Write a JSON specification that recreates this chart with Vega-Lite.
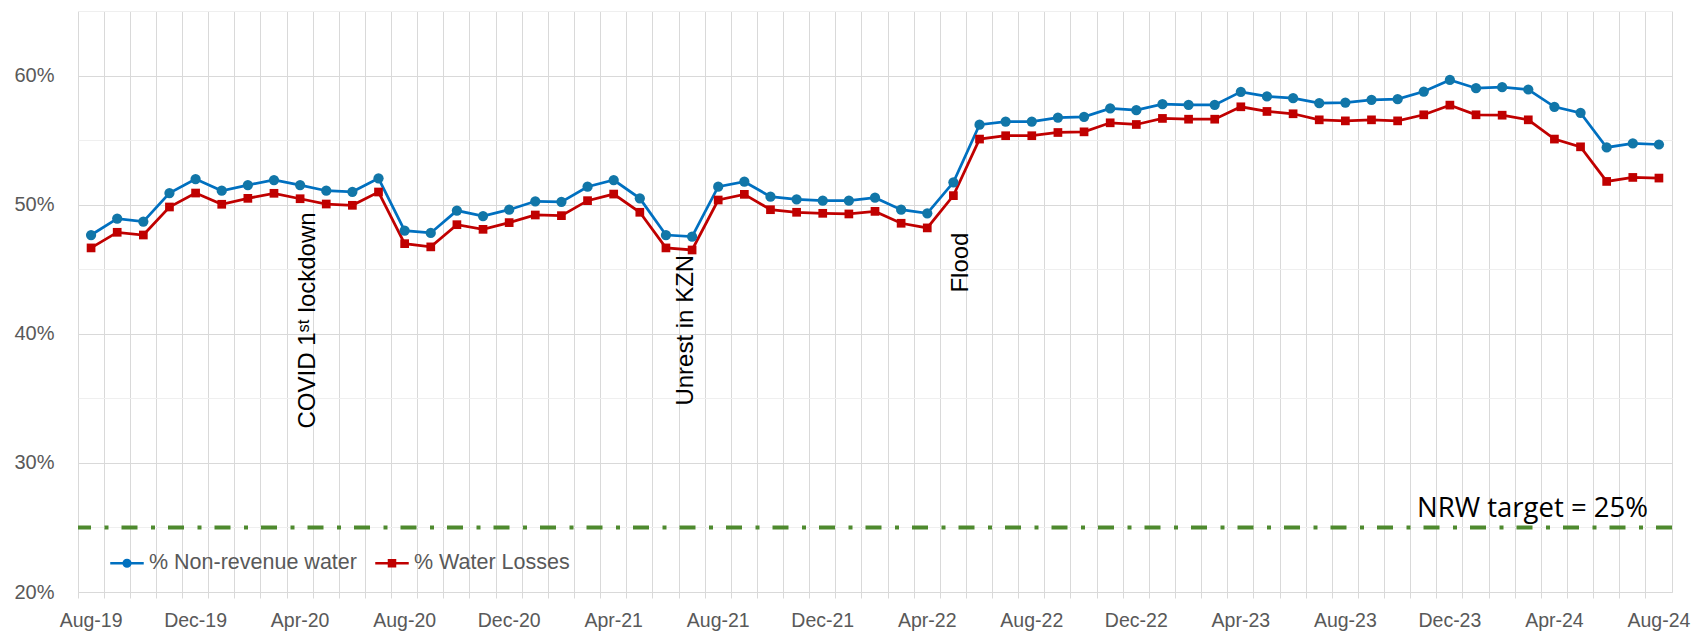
{
  "$schema": "https://vega.github.io/schema/vega-lite/v6.json",
  "width": 1594,
  "height": 581,
  "autosize": {"type": "none"},
  "padding": {"left": 78, "top": 11, "right": 22, "bottom": 42},
  "background": "white",
  "config": {
    "view": {"stroke": null},
    "font": "Liberation Sans",
    "axis": {"labelFont": "Liberation Sans", "labelColor": "#595959", "labelFontSize": 20}
  },
  "datasets": {
    "main": [
      {"month": "Aug-19", "series": "% Non-revenue water", "value": 47.65},
      {"month": "Sep-19", "series": "% Non-revenue water", "value": 48.92},
      {"month": "Oct-19", "series": "% Non-revenue water", "value": 48.69},
      {"month": "Nov-19", "series": "% Non-revenue water", "value": 50.90},
      {"month": "Dec-19", "series": "% Non-revenue water", "value": 51.98},
      {"month": "Jan-20", "series": "% Non-revenue water", "value": 51.08},
      {"month": "Feb-20", "series": "% Non-revenue water", "value": 51.52},
      {"month": "Mar-20", "series": "% Non-revenue water", "value": 51.91},
      {"month": "Apr-20", "series": "% Non-revenue water", "value": 51.52},
      {"month": "May-20", "series": "% Non-revenue water", "value": 51.08},
      {"month": "Jun-20", "series": "% Non-revenue water", "value": 51.00},
      {"month": "Jul-20", "series": "% Non-revenue water", "value": 52.04},
      {"month": "Aug-20", "series": "% Non-revenue water", "value": 47.99},
      {"month": "Sep-20", "series": "% Non-revenue water", "value": 47.81},
      {"month": "Oct-20", "series": "% Non-revenue water", "value": 49.54},
      {"month": "Nov-20", "series": "% Non-revenue water", "value": 49.12},
      {"month": "Dec-20", "series": "% Non-revenue water", "value": 49.61},
      {"month": "Jan-21", "series": "% Non-revenue water", "value": 50.26},
      {"month": "Feb-21", "series": "% Non-revenue water", "value": 50.22},
      {"month": "Mar-21", "series": "% Non-revenue water", "value": 51.39},
      {"month": "Apr-21", "series": "% Non-revenue water", "value": 51.91},
      {"month": "May-21", "series": "% Non-revenue water", "value": 50.49},
      {"month": "Jun-21", "series": "% Non-revenue water", "value": 47.65},
      {"month": "Jul-21", "series": "% Non-revenue water", "value": 47.53},
      {"month": "Aug-21", "series": "% Non-revenue water", "value": 51.39},
      {"month": "Sep-21", "series": "% Non-revenue water", "value": 51.78},
      {"month": "Oct-21", "series": "% Non-revenue water", "value": 50.62},
      {"month": "Nov-21", "series": "% Non-revenue water", "value": 50.41},
      {"month": "Dec-21", "series": "% Non-revenue water", "value": 50.31},
      {"month": "Jan-22", "series": "% Non-revenue water", "value": 50.31},
      {"month": "Feb-22", "series": "% Non-revenue water", "value": 50.54},
      {"month": "Mar-22", "series": "% Non-revenue water", "value": 49.61},
      {"month": "Apr-22", "series": "% Non-revenue water", "value": 49.33},
      {"month": "May-22", "series": "% Non-revenue water", "value": 51.73},
      {"month": "Jun-22", "series": "% Non-revenue water", "value": 56.19},
      {"month": "Jul-22", "series": "% Non-revenue water", "value": 56.44},
      {"month": "Aug-22", "series": "% Non-revenue water", "value": 56.44},
      {"month": "Sep-22", "series": "% Non-revenue water", "value": 56.75},
      {"month": "Oct-22", "series": "% Non-revenue water", "value": 56.80},
      {"month": "Nov-22", "series": "% Non-revenue water", "value": 57.45},
      {"month": "Dec-22", "series": "% Non-revenue water", "value": 57.32},
      {"month": "Jan-23", "series": "% Non-revenue water", "value": 57.78},
      {"month": "Feb-23", "series": "% Non-revenue water", "value": 57.73},
      {"month": "Mar-23", "series": "% Non-revenue water", "value": 57.73},
      {"month": "Apr-23", "series": "% Non-revenue water", "value": 58.74},
      {"month": "May-23", "series": "% Non-revenue water", "value": 58.38},
      {"month": "Jun-23", "series": "% Non-revenue water", "value": 58.25},
      {"month": "Jul-23", "series": "% Non-revenue water", "value": 57.86},
      {"month": "Aug-23", "series": "% Non-revenue water", "value": 57.91},
      {"month": "Sep-23", "series": "% Non-revenue water", "value": 58.12},
      {"month": "Oct-23", "series": "% Non-revenue water", "value": 58.17},
      {"month": "Nov-23", "series": "% Non-revenue water", "value": 58.76},
      {"month": "Dec-23", "series": "% Non-revenue water", "value": 59.66},
      {"month": "Jan-24", "series": "% Non-revenue water", "value": 59.02},
      {"month": "Feb-24", "series": "% Non-revenue water", "value": 59.10},
      {"month": "Mar-24", "series": "% Non-revenue water", "value": 58.92},
      {"month": "Apr-24", "series": "% Non-revenue water", "value": 57.58},
      {"month": "May-24", "series": "% Non-revenue water", "value": 57.11},
      {"month": "Jun-24", "series": "% Non-revenue water", "value": 54.43},
      {"month": "Jul-24", "series": "% Non-revenue water", "value": 54.74},
      {"month": "Aug-24", "series": "% Non-revenue water", "value": 54.66},
      {"month": "Aug-19", "series": "% Water Losses", "value": 46.65},
      {"month": "Sep-19", "series": "% Water Losses", "value": 47.86},
      {"month": "Oct-19", "series": "% Water Losses", "value": 47.65},
      {"month": "Nov-19", "series": "% Water Losses", "value": 49.82},
      {"month": "Dec-19", "series": "% Water Losses", "value": 50.90},
      {"month": "Jan-20", "series": "% Water Losses", "value": 50.03},
      {"month": "Feb-20", "series": "% Water Losses", "value": 50.49},
      {"month": "Mar-20", "series": "% Water Losses", "value": 50.88},
      {"month": "Apr-20", "series": "% Water Losses", "value": 50.46},
      {"month": "May-20", "series": "% Water Losses", "value": 50.05},
      {"month": "Jun-20", "series": "% Water Losses", "value": 49.95},
      {"month": "Jul-20", "series": "% Water Losses", "value": 50.98},
      {"month": "Aug-20", "series": "% Water Losses", "value": 46.98},
      {"month": "Sep-20", "series": "% Water Losses", "value": 46.73},
      {"month": "Oct-20", "series": "% Water Losses", "value": 48.45},
      {"month": "Nov-20", "series": "% Water Losses", "value": 48.09},
      {"month": "Dec-20", "series": "% Water Losses", "value": 48.61},
      {"month": "Jan-21", "series": "% Water Losses", "value": 49.20},
      {"month": "Feb-21", "series": "% Water Losses", "value": 49.15},
      {"month": "Mar-21", "series": "% Water Losses", "value": 50.31},
      {"month": "Apr-21", "series": "% Water Losses", "value": 50.82},
      {"month": "May-21", "series": "% Water Losses", "value": 49.41},
      {"month": "Jun-21", "series": "% Water Losses", "value": 46.65},
      {"month": "Jul-21", "series": "% Water Losses", "value": 46.49},
      {"month": "Aug-21", "series": "% Water Losses", "value": 50.36},
      {"month": "Sep-21", "series": "% Water Losses", "value": 50.80},
      {"month": "Oct-21", "series": "% Water Losses", "value": 49.61},
      {"month": "Nov-21", "series": "% Water Losses", "value": 49.41},
      {"month": "Dec-21", "series": "% Water Losses", "value": 49.33},
      {"month": "Jan-22", "series": "% Water Losses", "value": 49.28},
      {"month": "Feb-22", "series": "% Water Losses", "value": 49.48},
      {"month": "Mar-22", "series": "% Water Losses", "value": 48.56},
      {"month": "Apr-22", "series": "% Water Losses", "value": 48.20},
      {"month": "May-22", "series": "% Water Losses", "value": 50.70},
      {"month": "Jun-22", "series": "% Water Losses", "value": 55.08},
      {"month": "Jul-22", "series": "% Water Losses", "value": 55.34},
      {"month": "Aug-22", "series": "% Water Losses", "value": 55.34},
      {"month": "Sep-22", "series": "% Water Losses", "value": 55.59},
      {"month": "Oct-22", "series": "% Water Losses", "value": 55.64},
      {"month": "Nov-22", "series": "% Water Losses", "value": 56.34},
      {"month": "Dec-22", "series": "% Water Losses", "value": 56.21},
      {"month": "Jan-23", "series": "% Water Losses", "value": 56.68},
      {"month": "Feb-23", "series": "% Water Losses", "value": 56.62},
      {"month": "Mar-23", "series": "% Water Losses", "value": 56.62},
      {"month": "Apr-23", "series": "% Water Losses", "value": 57.58},
      {"month": "May-23", "series": "% Water Losses", "value": 57.22},
      {"month": "Jun-23", "series": "% Water Losses", "value": 57.04},
      {"month": "Jul-23", "series": "% Water Losses", "value": 56.57},
      {"month": "Aug-23", "series": "% Water Losses", "value": 56.49},
      {"month": "Sep-23", "series": "% Water Losses", "value": 56.57},
      {"month": "Oct-23", "series": "% Water Losses", "value": 56.49},
      {"month": "Nov-23", "series": "% Water Losses", "value": 56.96},
      {"month": "Dec-23", "series": "% Water Losses", "value": 57.71},
      {"month": "Jan-24", "series": "% Water Losses", "value": 56.96},
      {"month": "Feb-24", "series": "% Water Losses", "value": 56.93},
      {"month": "Mar-24", "series": "% Water Losses", "value": 56.57},
      {"month": "Apr-24", "series": "% Water Losses", "value": 55.08},
      {"month": "May-24", "series": "% Water Losses", "value": 54.48},
      {"month": "Jun-24", "series": "% Water Losses", "value": 51.80},
      {"month": "Jul-24", "series": "% Water Losses", "value": 52.11},
      {"month": "Aug-24", "series": "% Water Losses", "value": 52.06}
    ],
    "notesShifted": [
      {"month": "Apr-20", "y": 32.66, "label": "COVID 1ˢᵗ lockdown"},
      {"month": "May-22", "y": 43.19, "label": "Flood"}
    ],
    "notesCentered": [
      {"month": "Jul-21", "y": 34.44, "label": "Unrest in KZN"}
    ],
    "target": [
      {"month": "Aug-24", "target": 25, "label": "NRW target = 25%"}
    ]
  },
  "layer": [
    {
      "data": {"name": "target"},
      "mark": {"type": "rule", "color": "#4E8A2E", "strokeWidth": 4, "strokeDash": [16, 13, 4, 13.5]},
      "encoding": {
        "y": {
          "field": "target", "type": "quantitative",
          "axis": {"orient": "right", "values": [25, 35, 45, 55, 65], "grid": true, "gridColor": "#EFEFEF", "labels": false, "ticks": false, "domain": false, "title": null}
        }
      }
    },
    {
      "data": {"name": "main"},
      "mark": {"type": "line", "strokeWidth": 2.75},
      "encoding": {
        "x": {
          "field": "month", "type": "ordinal",
          "scale": {
            "type": "band", "paddingInner": 0, "paddingOuter": 0,
            "domain": ["Aug-19","Sep-19","Oct-19","Nov-19","Dec-19","Jan-20","Feb-20","Mar-20","Apr-20","May-20","Jun-20","Jul-20","Aug-20","Sep-20","Oct-20","Nov-20","Dec-20","Jan-21","Feb-21","Mar-21","Apr-21","May-21","Jun-21","Jul-21","Aug-21","Sep-21","Oct-21","Nov-21","Dec-21","Jan-22","Feb-22","Mar-22","Apr-22","May-22","Jun-22","Jul-22","Aug-22","Sep-22","Oct-22","Nov-22","Dec-22","Jan-23","Feb-23","Mar-23","Apr-23","May-23","Jun-23","Jul-23","Aug-23","Sep-23","Oct-23","Nov-23","Dec-23","Jan-24","Feb-24","Mar-24","Apr-24","May-24","Jun-24","Jul-24","Aug-24"]
          },
          "axis": {
            "orient": "bottom", "title": null, "grid": true, "gridColor": "#D9D9D9", "bandPosition": 0,
            "ticks": true, "tickSize": 6, "tickColor": "#D9D9D9", "domain": true, "domainColor": "#D9D9D9",
            "labelExpr": "test(/^(Aug|Dec|Apr)/, datum.label) ? datum.label : ''",
            "labelAngle": 0, "labelAlign": "center", "labelFlush": false, "labelPadding": 13, "labelOverlap": false, "labelFontSize": 19.5
          }
        },
        "y": {
          "field": "value", "type": "quantitative",
          "scale": {"domain": [20, 65], "nice": false, "zero": false},
          "axis": {
            "orient": "left", "title": null, "values": [20, 30, 40, 50, 60], "grid": true, "gridColor": "#D9D9D9",
            "ticks": false, "domain": false, "labelExpr": "datum.value + '%'", "labelPadding": 24
          }
        },
        "color": {
          "field": "series", "type": "nominal",
          "scale": {"domain": ["% Non-revenue water", "% Water Losses"], "range": ["#0070C0", "#C00000"]},
          "legend": {
            "orient": "none", "legendX": 31, "legendY": 534, "direction": "horizontal", "title": null,
            "symbolSize": 1122, "symbolStrokeWidth": 2.5, "labelFontSize": 21.5, "labelColor": "#595959",
            "labelFont": "Liberation Sans", "labelOffset": 4, "labelLimit": 500, "columnPadding": 13, "padding": 0,
            "encode": {
              "symbols": {
                "update": {
                  "shape": {"signal": "datum.value === '% Non-revenue water' ? 'M-1,0H1M-0.2,0A0.2,0.2 0 1,0 0.2,0A0.2,0.2 0 1,0 -0.2,0Z' : 'M-1,0H1M-0.18,-0.18H0.18V0.18H-0.18Z'"},
                  "fill": {"signal": "datum.value === '% Non-revenue water' ? '#1176A8' : '#C00000'"},
                  "stroke": {"signal": "datum.value === '% Non-revenue water' ? '#0070C0' : '#C00000'"},
                  "opacity": {"value": 1}
                }
              }
            }
          }
        }
      }
    },
    {
      "data": {"name": "main"},
      "transform": [{"filter": "datum.series === '% Non-revenue water'"}],
      "mark": {"type": "point", "shape": "circle", "filled": true, "size": 105, "opacity": 1, "color": "#1176A8", "strokeWidth": 0},
      "encoding": {
        "x": {"field": "month", "type": "ordinal", "axis": null},
        "y": {"field": "value", "type": "quantitative", "axis": null}
      }
    },
    {
      "data": {"name": "main"},
      "transform": [{"filter": "datum.series === '% Water Losses'"}],
      "mark": {"type": "point", "shape": "M-0.85,-0.85H0.85V0.85H-0.85Z", "filled": true, "size": 105, "opacity": 1, "color": "#C00000", "strokeWidth": 0},
      "encoding": {
        "x": {"field": "month", "type": "ordinal", "axis": null},
        "y": {"field": "value", "type": "quantitative", "axis": null}
      }
    },
    {
      "data": {"name": "notesShifted"},
      "mark": {"type": "text", "angle": 270, "align": "left", "baseline": "alphabetic", "font": "Liberation Sans", "fontSize": 24, "color": "#000000", "dy": 15},
      "encoding": {
        "x": {"field": "month", "type": "ordinal", "axis": null},
        "y": {"field": "y", "type": "quantitative", "axis": null},
        "text": {"field": "label"}
      }
    },
    {
      "data": {"name": "notesCentered"},
      "mark": {"type": "text", "angle": 270, "align": "left", "baseline": "alphabetic", "font": "Liberation Sans", "fontSize": 24, "color": "#000000", "dy": 1},
      "encoding": {
        "x": {"field": "month", "type": "ordinal", "axis": null},
        "y": {"field": "y", "type": "quantitative", "axis": null},
        "text": {"field": "label"}
      }
    },
    {
      "data": {"name": "target"},
      "mark": {"type": "text", "align": "right", "baseline": "alphabetic", "font": "Open Sans", "fontSize": 27.5, "color": "#000000", "dx": -11, "dy": -10},
      "encoding": {
        "x": {
          "field": "month", "type": "ordinal",
          "axis": {"orient": "top", "values": ["Aug-24"], "bandPosition": 1, "grid": true, "gridColor": "#D9D9D9", "labels": false, "ticks": false, "domain": false, "title": null}
        },
        "y": {"field": "target", "type": "quantitative", "axis": null},
        "text": {"field": "label"}
      }
    }
  ]
}
